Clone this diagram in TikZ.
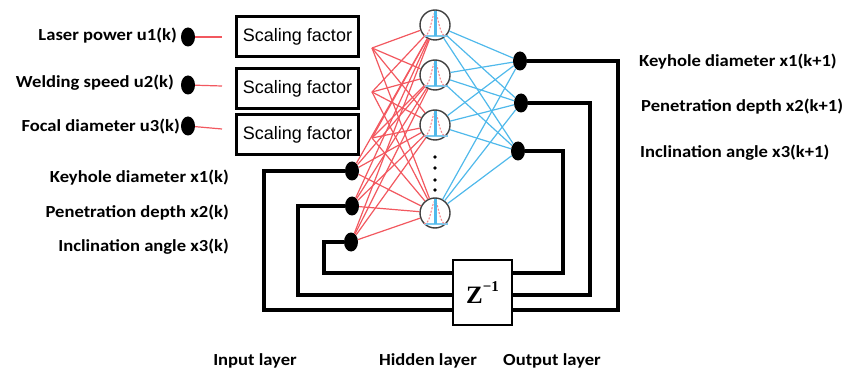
\documentclass[tikz,border=0pt]{standalone}
\usepackage{fontspec}
\setmainfont{Carlito}
\newfontfamily\labfont[FakeStretch=1.1]{Carlito}
\newfontfamily\boxfont{Liberation Sans}
\newfontfamily\zfont{Liberation Serif}
\usetikzlibrary{shapes.geometric}
\definecolor{netred}{RGB}{242,88,95}
\definecolor{netblue}{RGB}{80,185,235}
\tikzset{
  lab/.style={font=\labfont\bfseries\fontsize{16.9}{18}\selectfont, inner sep=0pt},
  dot/.style={ellipse, fill=black, minimum width=14pt, minimum height=19pt, inner sep=0pt},
  sbox/.style={draw=black, line width=3pt, minimum width=122pt, minimum height=40pt, inner sep=0pt,
               font=\boxfont\fontsize{18}{20}\selectfont},
  hid/.style={circle, draw=black!75, line width=1.4pt, minimum size=30pt, inner sep=0pt},
  redline/.style={draw=netred, line width=1.2pt},
  blueline/.style={draw=netblue, line width=1.2pt},
  fb/.style={draw=black, line width=3.4pt},
  zbox/.style={draw=black, line width=2.2pt, fill=white, minimum width=59pt, minimum height=65pt, inner sep=0pt,
               font=\zfont\bfseries\fontsize{25}{27}\selectfont},
  gbase/.style={draw=netblue!75, line width=1.4pt},
  gcurve/.style={draw=netred!70, line width=1.1pt, dash pattern=on 2pt off 1.5pt},
  gstem/.style={draw=netblue, line width=3pt}
}
\begin{document}
\begin{tikzpicture}[x=1pt,y=-1pt]
\useasboundingbox (0,0) rectangle (858,379);

% input dots
\node[dot] (u1) at (188,37) {};
\node[dot] (u2) at (188,85) {};
\node[dot] (u3) at (188,126) {};
\node[dot] (x1) at (352,171) {};
\node[dot] (x2) at (352,206) {};
\node[dot] (x3) at (351,242) {};

% output dots
\node[dot] (o1) at (520,61) {};
\node[dot] (o2) at (521,103) {};
\node[dot] (o3) at (518,151) {};

% left labels
\node[lab, anchor=east] (l1) at (177,36) {Laser power u1(k)};
\node[lab, anchor=east] (l2) at (174,83) {Welding speed u2(k)};
\node[lab, anchor=east] (l3) at (180,127) {Focal diameter u3(k)};
\node[lab, anchor=east] (l4) at (229,178) {Keyhole diameter x1(k)};
\node[lab, anchor=east] (l5) at (229,213) {Penetration depth x2(k)};
\node[lab, anchor=east] (l6) at (229,247) {Inclination angle x3(k)};

% right labels
\node[lab, anchor=west] (r1) at (639,62) {Keyhole diameter x1(k+1)};
\node[lab, anchor=west] (r2) at (641,107) {Penetration depth x2(k+1)};
\node[lab, anchor=west] (r3) at (640,153) {Inclination angle x3(k+1)};

% bottom labels
\node[lab] (b1) at (255,361) {Input layer};
\node[lab] (b2) at (428,361) {Hidden layer};
\node[lab] (b3) at (552,361) {Output layer};

% scaling boxes
\node[sbox] (f1) at (297.5,36.5) {Scaling factor};
\node[sbox] (f2) at (297.5,88.5) {Scaling factor};
\node[sbox] (f3) at (297.5,134.5) {Scaling factor};

% short red stubs
\coordinate (c1) at (222,37);
\coordinate (c2) at (222,86);
\coordinate (c3) at (222,129);
\draw[redline] (u1) -- (c1);
\draw[redline] (u2) -- (c2);
\draw[redline] (u3) -- (c3);

% hidden neurons
\node[hid] (h1) at (435,25) {};
\node[hid] (h2) at (435,75) {};
\node[hid] (h3) at (435,125) {};
\node[hid] (h4) at (435,213) {};
\foreach \cy in {25,75,125,213} {
  \draw[gbase] (424,\cy+11) -- (448,\cy+11);
  \draw[gcurve] plot[domain=-11:11, samples=25, smooth] ({435+\x},{\cy+11-23*exp(-\x*\x/24)});
  \draw[gstem] (435,\cy-14) -- (435,\cy+11);
}
\foreach \yy in {157,168,180,190} { \fill (435,\yy) circle (1.8pt); }

% sources from scaling boxes
\coordinate (s1) at (372,48);
\coordinate (s2) at (372,92);
\coordinate (s3) at (372,138);

% red connections
\foreach \s in {s1,s2,s3,x1,x2,x3} {
  \foreach \h in {h1,h2,h3,h4} {
    \draw[redline] (\s) -- (\h);
  }
}

% blue connections
\foreach \h in {h1,h2,h3,h4} {
  \foreach \o in {o1,o2,o3} {
    \draw[blueline] (\h) -- (\o);
  }
}

% feedback loops
\draw[fb] (o1.east) -- (618,61) -- (618,310) -- (264,310) -- (264,171) -- (x1.west);
\draw[fb] (o2.east) -- (590,103) -- (590,295) -- (298,295) -- (298,206) -- (x2.west);
\draw[fb] (o3.east) -- (563,151) -- (563,273) -- (324,273) -- (324,242) -- (x3.west);

% delay box
\node[zbox] (z) at (482.5,292.5) {Z\raisebox{0.5em}{\fontsize{15}{16}\selectfont −1}};
\end{tikzpicture}
\end{document}
